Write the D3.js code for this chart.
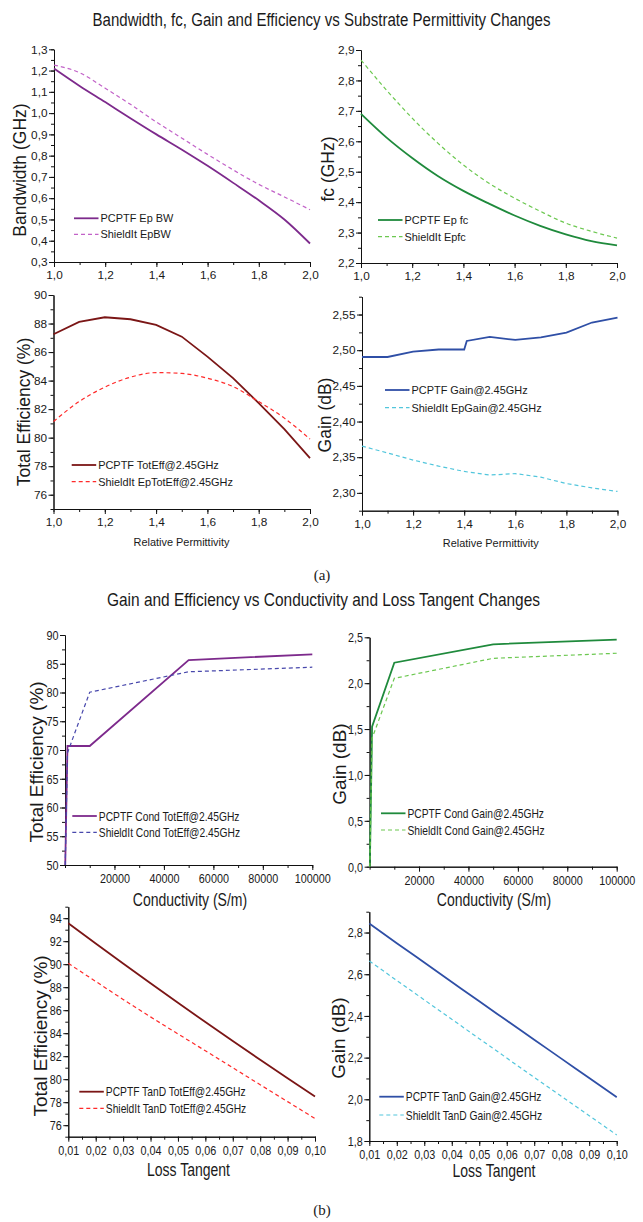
<!DOCTYPE html>
<html>
<head>
<meta charset="utf-8">
<script src="https://cdn.jsdelivr.net/npm/d3@7"></script>
<style>
  body { margin: 0; background: #fff; }
  svg text { font-family: "Liberation Sans", Arial, sans-serif; fill: #1a1a1a; }
</style>
</head>
<body>
<svg id="fig" width="643" height="1222"></svg>
<script>
// ---- data ----
const epsR = [1.0, 1.1, 1.2, 1.3, 1.4, 1.5, 1.6, 1.7, 1.8, 1.9, 2.0];

const bwPcptf  = [1.210, 1.128, 1.052, 0.975, 0.900, 0.828, 0.752, 0.672, 0.590, 0.500, 0.387];
const bwShield = [1.226, 1.190, 1.117, 1.040, 0.958, 0.882, 0.806, 0.733, 0.665, 0.606, 0.546];

const fcPcptf  = [2.690, 2.612, 2.545, 2.486, 2.437, 2.395, 2.356, 2.322, 2.294, 2.272, 2.258];
const fcShield = [2.867, 2.768, 2.676, 2.594, 2.522, 2.462, 2.413, 2.370, 2.331, 2.304, 2.282];

const effPcptf  = [87.25, 88.11, 88.44, 88.30, 87.90, 87.08, 85.68, 84.17, 82.42, 80.60, 78.57];
const effShield = [81.13, 82.53, 83.54, 84.24, 84.56, 84.50, 84.17, 83.58, 82.53, 81.37, 79.90];

const gainEpsX    = [1.0, 1.1, 1.2, 1.3, 1.4, 1.41, 1.5, 1.6, 1.7, 1.8, 1.9, 2.0];
const gainPcptf   = [2.4905, 2.4905, 2.498, 2.501, 2.501, 2.513, 2.5186, 2.5144, 2.518, 2.5247, 2.5388, 2.5458];
const gainShield  = [2.3655, 2.356, 2.346, 2.3375, 2.330, 2.325, 2.327, 2.322, 2.313, 2.307, 2.302];

const cond = [100, 1000, 10000, 50000, 100000];
const condEffPcptf   = [50, 70.7, 70.7, 85.65, 86.64];
const condEffShield  = [50, 69.5, 80.05, 83.6, 84.4];
const condGainPcptf  = [0, 1.526, 2.223, 2.424, 2.475];
const condGainShield = [0, 1.40, 2.053, 2.271, 2.326];

const tanD = [0.01, 0.02, 0.03, 0.04, 0.05, 0.06, 0.07, 0.08, 0.09, 0.10];
const tanEffPcptf   = [93.56, 91.80, 90.06, 88.34, 86.64, 84.97, 83.32, 81.69, 80.08, 78.50];
const tanEffShield  = [90.08, 88.50, 86.94, 85.42, 83.94, 82.47, 81.00, 79.52, 78.05, 76.58];
const tanGainPcptf  = [2.843, 2.749, 2.656, 2.563, 2.470, 2.378, 2.286, 2.194, 2.102, 2.010];
const tanGainShield = [2.664, 2.570, 2.477, 2.384, 2.291, 2.198, 2.105, 2.013, 1.921, 1.829];

const colPurple = "#7d2a8c", colPurpleLt = "#c262c8", colBluePurple = "#4848ac";
const colGreen = "#1f8a3c", colGreenLt = "#6cc850";
const colMaroon = "#7b1616", colRed = "#ff2a2a";
const colBlue = "#2f4fa6", colCyan = "#52c6dc";

const locale = d3.formatLocale({decimal: ",", thousands: "", grouping: [3], currency: ["", ""]});

const svg = d3.select("#fig");

// squeeze a text horizontally, gives the narrow look of the original
function narrow(sel, k) {
  sel.each(function () {
    const w = this.getComputedTextLength();
    d3.select(this).attr("textLength", w * k).attr("lengthAdjust", "spacingAndGlyphs");
  });
}

const panels = [
  { left: 54, right: 310, top: 49.3, bottom: 262, xDomain: [1, 2], yDomain: [0.3, 1.3],
    xTicks: [1, 2, 0.2], xMinor: 0.1, xFmt: ".1f", yTicks: [0.3, 1.3, 0.1], yMinor: 0.05, yFmt: ".1f",
    series: [ {x: epsR, y: bwPcptf, color: colPurple, dash: null, curve: d3.curveMonotoneX, name: "PCPTF Ep BW"},
              {x: epsR, y: bwShield, color: colPurpleLt, dash: "4,3", curve: d3.curveMonotoneX, name: "ShieldIt EpBW"} ],
    yTitle: "Bandwidth (GHz)", yTitlePos: [20, 170], legend: [74, 218.3, 16], part: "a" },
  { left: 361, right: 617, top: 50, bottom: 263, xDomain: [1, 2], yDomain: [2.2, 2.9],
    xTicks: [1, 2, 0.2], xMinor: 0.1, xFmt: ".1f", yTicks: [2.2, 2.9, 0.1], yMinor: 0.05, yFmt: ".1f",
    series: [ {x: epsR, y: fcPcptf, color: colGreen, dash: null, curve: d3.curveMonotoneX, name: "PCPTF Ep fc"},
              {x: epsR, y: fcShield, color: colGreenLt, dash: "4,3", curve: d3.curveMonotoneX, name: "ShieldIt Epfc"} ],
    yTitle: "fc (GHz)", yTitlePos: [328, 169], legend: [378, 220, 16.7], part: "a" },
  { left: 53.5, right: 310, top: 295, bottom: 509, xDomain: [1, 2], yDomain: [75, 90],
    xTicks: [1, 2, 0.2], xMinor: 0.1, xFmt: ".1f", yTicks: [76, 90, 2], yMinor: 1, yFmt: "d",
    series: [ {x: epsR, y: effPcptf, color: colMaroon, dash: null, curve: d3.curveLinear, name: "PCPTF TotEff@2.45GHz"},
              {x: epsR, y: effShield, color: colRed, dash: "4,3", curve: d3.curveMonotoneX, name: "ShieldIt EpTotEff@2.45GHz"} ],
    yTitle: "Total Efficiency (%)", yTitlePos: [24, 412], xTitle: "Relative Permittivity", xTitlePos: [181.5, 541.7],
    legend: [71.7, 465, 16.7], part: "a" },
  { left: 362, right: 617.5, top: 296.7, bottom: 510.7, xDomain: [1, 2], yDomain: [2.275, 2.575],
    xTicks: [1, 2, 0.2], xMinor: 0.1, xFmt: ".1f", yTicks: [2.3, 2.55, 0.05], yMinor: 0.025, yFmt: ".2f",
    series: [ {x: gainEpsX, y: gainPcptf, color: colBlue, dash: null, curve: d3.curveLinear, name: "PCPTF Gain@2.45GHz"},
              {x: epsR, y: gainShield, color: colCyan, dash: "4,3", curve: d3.curveLinear, name: "ShieldIt EpGain@2.45GHz"} ],
    yTitle: "Gain (dB)", yTitlePos: [325, 415], xTitle: "Relative Permittivity", xTitlePos: [490.8, 543.3],
    legend: [385, 390, 17.7], part: "a" },
  { left: 65, right: 312.3, top: 635, bottom: 865, xDomain: [0, 100000], yDomain: [50, 90],
    xTicks: [20000, 100000, 20000], xMinor: 10000, xFmt: "d", yTicks: [50, 90, 5], yMinor: 2.5, yFmt: "d",
    series: [ {x: cond, y: condEffPcptf, color: colPurple, dash: null, curve: d3.curveLinear, name: "PCPTF Cond TotEff@2.45GHz"},
              {x: cond, y: condEffShield, color: colBluePurple, dash: "4,3", curve: d3.curveLinear, name: "ShieldIt Cond TotEff@2.45GHz"} ],
    yTitle: "Total Efficiency (%)", yTitlePos: [36, 762], xTitle: "Conductivity (S/m)", xTitlePos: [190, 900],
    legend: [72.3, 816, 16.3], part: "b" },
  { left: 369.6, right: 616.7, top: 637.3, bottom: 866.7, xDomain: [0, 100000], yDomain: [0, 2.5],
    xTicks: [20000, 100000, 20000], xMinor: 10000, xFmt: "d", yTicks: [0, 2.5, 0.5], yMinor: 0.25, yFmt: ".1f",
    series: [ {x: cond, y: condGainPcptf, color: colGreen, dash: null, curve: d3.curveLinear, name: "PCPTF Cond Gain@2.45GHz"},
              {x: cond, y: condGainShield, color: colGreenLt, dash: "4,3", curve: d3.curveLinear, name: "ShieldIt Cond Gain@2.45GHz"} ],
    yTitle: "Gain (dB)", yTitlePos: [339, 764], xTitle: "Conductivity (S/m)", xTitlePos: [494, 900],
    legend: [381, 813.3, 16.7], part: "b" },
  { left: 68.3, right: 315, top: 906.7, bottom: 1136.7, xDomain: [0.01, 0.10], yDomain: [75, 95],
    xTicks: [0.01, 0.10, 0.01], xMinor: 0.005, xFmt: ".2f", yTicks: [76, 94, 2], yMinor: 1, yFmt: "d",
    series: [ {x: tanD, y: tanEffPcptf, color: colMaroon, dash: null, curve: d3.curveMonotoneX, name: "PCPTF TanD TotEff@2.45GHz"},
              {x: tanD, y: tanEffShield, color: colRed, dash: "4,3", curve: d3.curveMonotoneX, name: "ShieldIt TanD TotEff@2.45GHz"} ],
    yTitle: "Total Efficiency (%)", yTitlePos: [40, 1036], xTitle: "Loss Tangent", xTitlePos: [188.5, 1170],
    legend: [79.3, 1091.7, 16.6], part: "b" },
  { left: 369.3, right: 616.7, top: 911.7, bottom: 1141, xDomain: [0.01, 0.10], yDomain: [1.8, 2.9],
    xTicks: [0.01, 0.10, 0.01], xMinor: 0.005, xFmt: ".2f", yTicks: [1.8, 2.8, 0.2], yMinor: 0.1, yFmt: ".1f",
    series: [ {x: tanD, y: tanGainPcptf, color: colBlue, dash: null, curve: d3.curveMonotoneX, name: "PCPTF TanD Gain@2.45GHz"},
              {x: tanD, y: tanGainShield, color: colCyan, dash: "4,3", curve: d3.curveMonotoneX, name: "ShieldIt TanD Gain@2.45GHz"} ],
    yTitle: "Gain (dB)", yTitlePos: [338.5, 1038], xTitle: "Loss Tangent", xTitlePos: [494, 1171],
    legend: [379.3, 1096.7, 18.3], part: "b" }
];

function steps(a, b, s) {
  return d3.range(0, Math.round((b - a) / s) + 1).map(i => a + i * s);
}

function drawPanel(p) {
  const x = d3.scaleLinear().domain(p.xDomain).range([p.left, p.right]);
  const y = d3.scaleLinear().domain(p.yDomain).range([p.bottom, p.top]);
  const g = svg.append("g");
  const isB = p.part === "b";
  const tickFont = isB ? 13.5 : 11.8;

  // minor ticks
  g.append("g").attr("transform", "translate(0," + p.bottom + ")")
    .call(d3.axisBottom(x).tickValues(steps(p.xDomain[0], p.xDomain[1], p.xMinor)).tickSize(3).tickSizeOuter(0).tickFormat(""));
  g.append("g").attr("transform", "translate(" + p.left + ",0)")
    .call(d3.axisLeft(y).tickValues(steps(p.yDomain[0], p.yDomain[1], p.yMinor)).tickSize(3).tickSizeOuter(0).tickFormat(""));

  // major ticks + labels
  const xf = locale.format(p.xFmt), yf = locale.format(p.yFmt);
  const xAxis = g.append("g").attr("transform", "translate(0," + p.bottom + ")")
    .call(d3.axisBottom(x).tickValues(steps(p.xTicks[0], p.xTicks[1], p.xTicks[2]))
      .tickSize(5).tickPadding(3.5).tickSizeOuter(0).tickFormat(xf));
  const yAxis = g.append("g").attr("transform", "translate(" + p.left + ",0)")
    .call(d3.axisLeft(y).tickValues(steps(p.yTicks[0], p.yTicks[1], p.yTicks[2]))
      .tickSize(5).tickPadding(1.5).tickSizeOuter(0).tickFormat(yf));

  g.selectAll(".domain, .tick line").attr("stroke", "#111");
  [xAxis, yAxis].forEach(a => {
    a.selectAll("text").style("font-size", tickFont + "px").attr("fill", "#1a1a1a");
    if (isB) narrow(a.selectAll("text"), 0.8);
  });

  // series
  p.series.forEach(s => {
    const pts = s.x.map((v, i) => [v, s.y[i]]);
    const line = d3.line().x(d => x(d[0])).y(d => y(d[1])).curve(s.curve);
    g.append("path").datum(pts)
      .attr("d", line)
      .attr("fill", "none")
      .attr("stroke", s.color)
      .attr("stroke-width", s.dash ? 1.2 : 1.8)
      .attr("stroke-dasharray", s.dash);
  });

  // legend
  const [lx, ly, ldy] = p.legend;
  p.series.forEach((s, i) => {
    const yy = ly + i * ldy;
    g.append("line").attr("x1", lx).attr("x2", lx + 24.5).attr("y1", yy).attr("y2", yy)
      .attr("stroke", s.color).attr("stroke-width", s.dash ? 1.2 : 1.8).attr("stroke-dasharray", s.dash);
    const t = g.append("text").attr("x", lx + 26.5).attr("y", yy).attr("dy", "0.35em")
      .style("font-size", isB ? "13.5px" : "11.5px").text(s.name);
    if (isB) narrow(t, 0.76);
    else narrow(t, 0.95);
  });

  // axis titles
  g.append("text")
    .attr("transform", "translate(" + p.yTitlePos[0] + "," + p.yTitlePos[1] + ") rotate(-90)")
    .attr("text-anchor", "middle").attr("dy", "0.35em")
    .style("font-size", isB ? "19px" : "17.5px")
    .text(p.yTitle);

  if (p.xTitle) {
    const t = g.append("text").attr("x", p.xTitlePos[0]).attr("y", p.xTitlePos[1])
      .attr("text-anchor", "middle").attr("dy", "0.35em")
      .style("font-size", isB ? "17.5px" : "11.5px")
      .text(p.xTitle);
    narrow(t, isB ? 0.8 : 0.95);
  }
}

panels.forEach(drawPanel);

// figure titles and sub-captions
svg.append("text").attr("x", 321.5).attr("y", 26).attr("text-anchor", "middle")
  .style("font-size", "18px").attr("textLength", 458).attr("lengthAdjust", "spacingAndGlyphs")
  .text("Bandwidth, fc, Gain and Efficiency vs Substrate Permittivity Changes");
svg.append("text").attr("x", 323.5).attr("y", 606).attr("text-anchor", "middle")
  .style("font-size", "18.5px").attr("textLength", 433).attr("lengthAdjust", "spacingAndGlyphs")
  .text("Gain and Efficiency vs Conductivity and Loss Tangent Changes");

svg.append("text").attr("x", 322).attr("y", 580).attr("text-anchor", "middle")
  .style("font-family", "'Liberation Serif', 'Times New Roman', serif").style("font-size", "15px")
  .text("(a)");
svg.append("text").attr("x", 322).attr("y", 1215).attr("text-anchor", "middle")
  .style("font-family", "'Liberation Serif', 'Times New Roman', serif").style("font-size", "15px")
  .text("(b)");
</script>
</body>
</html>
